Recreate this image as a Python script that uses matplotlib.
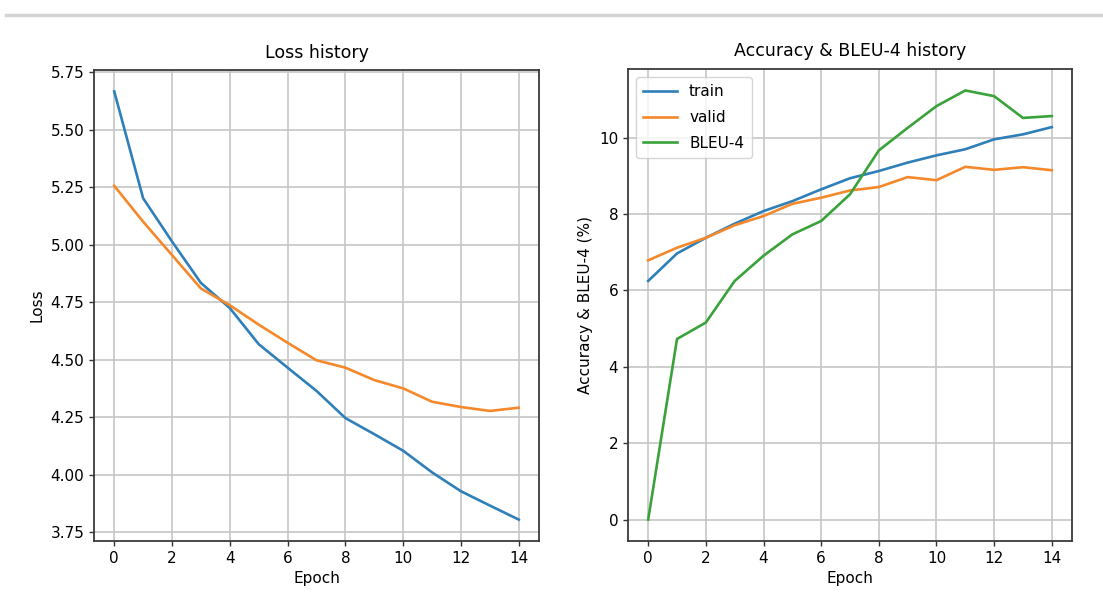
import matplotlib
matplotlib.use("Agg")
import matplotlib.pyplot as plt
from matplotlib.lines import Line2D

epochs = list(range(15))

loss_train = [5.666, 5.202, 5.014, 4.834, 4.725, 4.568, 4.466, 4.365, 4.247,
              4.177, 4.105, 4.011, 3.929, 3.867, 3.806]
loss_valid = [5.256, 5.100, 4.955, 4.810, 4.737, 4.653, 4.574, 4.498, 4.466,
              4.412, 4.376, 4.318, 4.295, 4.278, 4.292]

acc_train = [6.25, 6.97, 7.38, 7.75, 8.08, 8.34, 8.65, 8.94, 9.13, 9.35,
             9.54, 9.70, 9.96, 10.09, 10.28]
acc_valid = [6.79, 7.12, 7.38, 7.71, 7.95, 8.27, 8.43, 8.62, 8.71, 8.97,
             8.89, 9.24, 9.16, 9.23, 9.15]
bleu4 = [0.0, 4.73, 5.16, 6.25, 6.91, 7.47, 7.82, 8.52, 9.67, 10.26,
         10.83, 11.24, 11.09, 10.52, 10.57]

plt.rcParams['font.family'] = ['DejaVu Sans']

W, H = 1103, 597
fig = plt.figure(figsize=(W / 100, H / 100), dpi=100)
fig.patch.set_facecolor('white')

# top separator line of the screenshot
fig.add_artist(Line2D([6 / W, 1.0], [1 - 15 / H, 1 - 15 / H],
                      transform=fig.transFigure, color='#d4d4d4', lw=2.5))

ax1 = fig.add_axes([94 / W, (H - 541) / H, 445 / W, 471 / H])
ax2 = fig.add_axes([628 / W, (H - 541) / H, 444 / W, 472 / H])

c_blue, c_orange, c_green = '#2f7fb8', '#f5882a', '#3aa23a'
lw = 1.9

ax1.plot(epochs, loss_train, color=c_blue, lw=lw, label='train')
ax1.plot(epochs, loss_valid, color=c_orange, lw=lw, label='valid')
ax1.set_title('Loss history', fontsize=12.5, pad=9)
ax1.set_xlabel('Epoch', fontsize=11)
ax1.set_ylabel('Loss', fontsize=11)

ax2.plot(epochs, acc_train, color=c_blue, lw=lw, label='train')
ax2.plot(epochs, acc_valid, color=c_orange, lw=lw, label='valid')
ax2.plot(epochs, bleu4, color=c_green, lw=lw, label='BLEU-4')
ax2.set_title('Accuracy & BLEU-4 history', fontsize=12.5, pad=9)
ax2.set_xlabel('Epoch', fontsize=11)
ax2.set_ylabel('Accuracy & BLEU-4 (%)', fontsize=11)
ax2.legend(loc='upper left', fontsize=11, framealpha=0.8,
           handlelength=2.2, borderpad=0.5, labelspacing=0.7)

for ax in (ax1, ax2):
    ax.grid(True, color='#c6c6c6', lw=1.2)
    ax.set_axisbelow(True)
    ax.tick_params(labelsize=11, color='#333333', width=1.0)
    for sp in ax.spines.values():
        sp.set_color('#3a3a3a')
        sp.set_linewidth(1.3)

fig.savefig('out.png', dpi=100)
